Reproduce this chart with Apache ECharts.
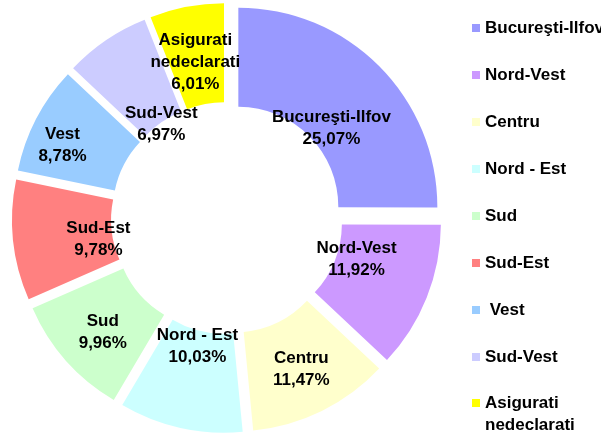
<!DOCTYPE html>
<html>
<head>
<meta charset="utf-8">
<script src="https://cdn.jsdelivr.net/npm/echarts@6/dist/echarts.min.js"></script>
<style>
	html, body { margin: 0; padding: 0; background: #fff; }
	#chart { width: 601px; height: 436px; }
</style>
</head>
<body>
<div id="chart"></div>
<script>
const regions = [
	"Bucureşti-Ilfov",
	"Nord-Vest",
	"Centru",
	"Nord - Est",
	"Sud",
	"Sud-Est",
	" Vest",
	"Sud-Vest",
	"Asigurati\nnedeclarati",
];
const shares = [25.07, 11.92, 11.47, 10.03, 9.96, 9.78, 8.78, 6.97, 6.01];
const colors = ["#9999FF", "#CC99FF", "#FFFFCC", "#CCFFFF", "#CCFFCC", "#FF8080", "#99CCFF", "#CCCCFF", "#FFFF00"];

// labels in the original were dragged around by hand, nudge them the same way
const labelNudge = [[-15, 29], [-27, -21], [0, 0], [7, -36], [2, 3], [39, 4], [-15, 5], [29, 46], [0, 10]];

const font = "Arial, 'Liberation Sans', sans-serif";
const chart = echarts.init(document.getElementById("chart"), null, { renderer: "canvas" });

const legendText = {
	fontSize   : 17,
	fontWeight : "bold",
	fontFamily : font,
	color      : "#000",
	lineHeight : 22,
};

chart.setOption({
	animation : false,
	color     : colors,
	legend    : [
		{
			data         : regions.slice(0, 8),
			orient       : "vertical",
			left         : 472,
			top          : 17,
			padding      : 0,
			itemWidth    : 8,
			itemHeight   : 8,
			itemGap      : 25,
			icon         : "rect",
			selectedMode : false,
			textStyle    : legendText,
		},
		{
			// empty first line keeps the square level with "Asigurati"
			data         : regions.slice(8),
			formatter    : name => `\n${name}`,
			orient       : "vertical",
			left         : 472,
			top          : 370,
			padding      : 0,
			itemWidth    : 8,
			itemHeight   : 8,
			icon         : "rect",
			selectedMode : false,
			textStyle    : legendText,
		},
	],
	series: [
		{
			type              : "pie",
			center            : [227, 218],
			radius            : [100, 199],
			startAngle        : 90,
			clockwise         : true,
			selectedMode      : "multiple",
			selectedOffset    : 16,
			avoidLabelOverlap : false,
			itemStyle         : { borderWidth: 0 },
			emphasis          : { disabled: true },
			label             : {
				show       : true,
				position   : "inside",
				color      : "#000",
				fontSize   : 17,
				fontWeight : "bold",
				fontFamily : font,
				lineHeight : 22,
				align      : "center",
				formatter  : p => `${p.name.trim()}\n${p.value.toFixed(2).replace(".", ",")}%`,
			},
			labelLine   : { show: false },
			labelLayout : p => ({ dx: labelNudge[p.dataIndex][0], dy: labelNudge[p.dataIndex][1] }),
			data        : regions.map((name, i) => ({
				name,
				value    : shares[i],
				selected : true,
			})),
		},
	],
});
</script>
</body>
</html>
